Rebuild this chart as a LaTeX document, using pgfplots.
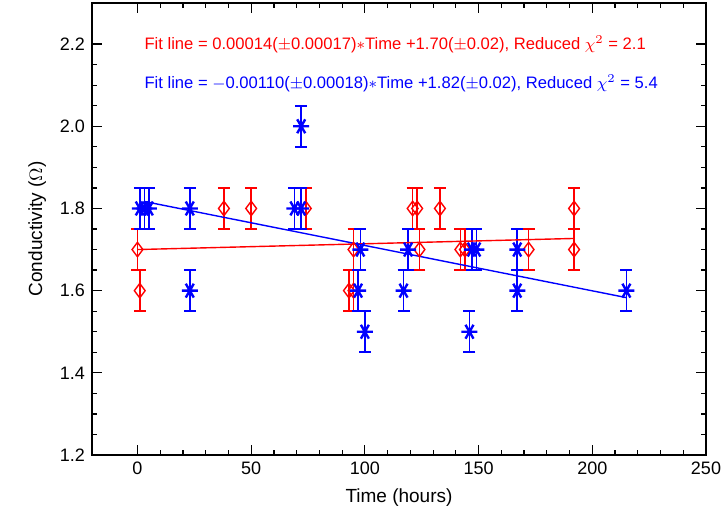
\documentclass[border=0pt]{standalone}
\usepackage{pgfplots}
\pgfplotsset{compat=1.18}
\usepackage{fontspec}
\setmainfont{Liberation Sans}
\begin{document}
\begin{tikzpicture}
\begin{axis}[
    scale only axis,
    width=307pt, height=226pt,
    xmin=-20, xmax=250,
    ymin=1.2, ymax=2.3,
    xtick={0,50,...,250},
    ytick={1.2,1.4,...,2.2},
    minor x tick num=4,
    minor y tick num=3,
    major tick length=5pt,
    minor tick length=2.5pt,
    tick align=inside,
    axis line style={line width=0.75pt},
    every tick/.style={black, line width=0.6pt},
    yticklabel style={/pgf/number format/.cd, fixed, fixed zerofill, precision=1},
    /pgf/number format/assume math mode=true,
    ticklabel style={font=\fontsize{9}{10}\selectfont},
    label style={font=\fontsize{9.5}{11}\selectfont},
    xlabel={Time (hours)},
    ylabel={Conductivity ($\Omega$)},
    clip=false,
    error bars/y dir=both,
    error bars/y explicit,
    error bars/error mark=-,
]
% red series
\addplot[red, only marks, mark=diamond, mark size=3.6pt, line width=0.7pt,
    error bars/error bar style={red, solid, line width=0.8pt},
    error bars/error mark options={red, solid, rotate=90, mark size=3pt, line width=0.8pt}]
coordinates {
    (0,1.70) +- (0,0.05)
    (1,1.60) +- (0,0.05)
    (38,1.80) +- (0,0.05)
    (50,1.80) +- (0,0.05)
    (74,1.80) +- (0,0.05)
    (93,1.60) +- (0,0.05)
    (95,1.60) +- (0,0.05)
    (95,1.70) +- (0,0.05)
    (121,1.80) +- (0,0.05)
    (123,1.80) +- (0,0.05)
    (124,1.70) +- (0,0.05)
    (133,1.80) +- (0,0.05)
    (142,1.70) +- (0,0.05)
    (144,1.70) +- (0,0.05)
    (172,1.70) +- (0,0.05)
    (192,1.80) +- (0,0.05)
    (192,1.70) +- (0,0.05)
};
% blue series
\addplot[blue, only marks, mark=asterisk, mark size=4pt, line width=1.2pt,
    mark options={rotate=90},
    error bars/error bar style={blue, solid, line width=0.8pt},
    error bars/error mark options={blue, solid, rotate=90, mark size=3pt, line width=0.8pt}]
coordinates {
    (1,1.80) +- (0,0.05)
    (3,1.80) +- (0,0.05)
    (5,1.80) +- (0,0.05)
    (23,1.80) +- (0,0.05)
    (23,1.60) +- (0,0.05)
    (69,1.80) +- (0,0.05)
    (72,1.80) +- (0,0.05)
    (72,2.00) +- (0,0.05)
    (97,1.60) +- (0,0.05)
    (98,1.70) +- (0,0.05)
    (100,1.50) +- (0,0.05)
    (117,1.60) +- (0,0.05)
    (119,1.70) +- (0,0.05)
    (146,1.50) +- (0,0.05)
    (147,1.70) +- (0,0.05)
    (149,1.70) +- (0,0.05)
    (167,1.70) +- (0,0.05)
    (167,1.60) +- (0,0.05)
    (215,1.60) +- (0,0.05)
};
% fit lines
\addplot[red, line width=0.7pt, mark=none] coordinates {(0,1.700) (192,1.727)};
\addplot[blue, line width=0.7pt, mark=none] coordinates {(3,1.817) (215,1.583)};
\node[anchor=west, text=red, font=\fontsize{8.3}{9}\selectfont] at (axis cs:0,2.2)
    {Fit line = 0.00014($\pm$0.00017)$\ast$Time +1.70($\pm$0.02), Reduced $\chi^2$ = 2.1};
\node[anchor=west, text=blue, font=\fontsize{8.3}{9}\selectfont] at (axis cs:0,2.105)
    {Fit line = $-$0.00110($\pm$0.00018)$\ast$Time +1.82($\pm$0.02), Reduced $\chi^2$ = 5.4};
\end{axis}
\pgfresetboundingbox
\useasboundingbox ([xshift=-46pt,yshift=-32.5pt]current axis.south west) rectangle ([xshift=8pt,yshift=1.5pt]current axis.north east);
\end{tikzpicture}
\end{document}
